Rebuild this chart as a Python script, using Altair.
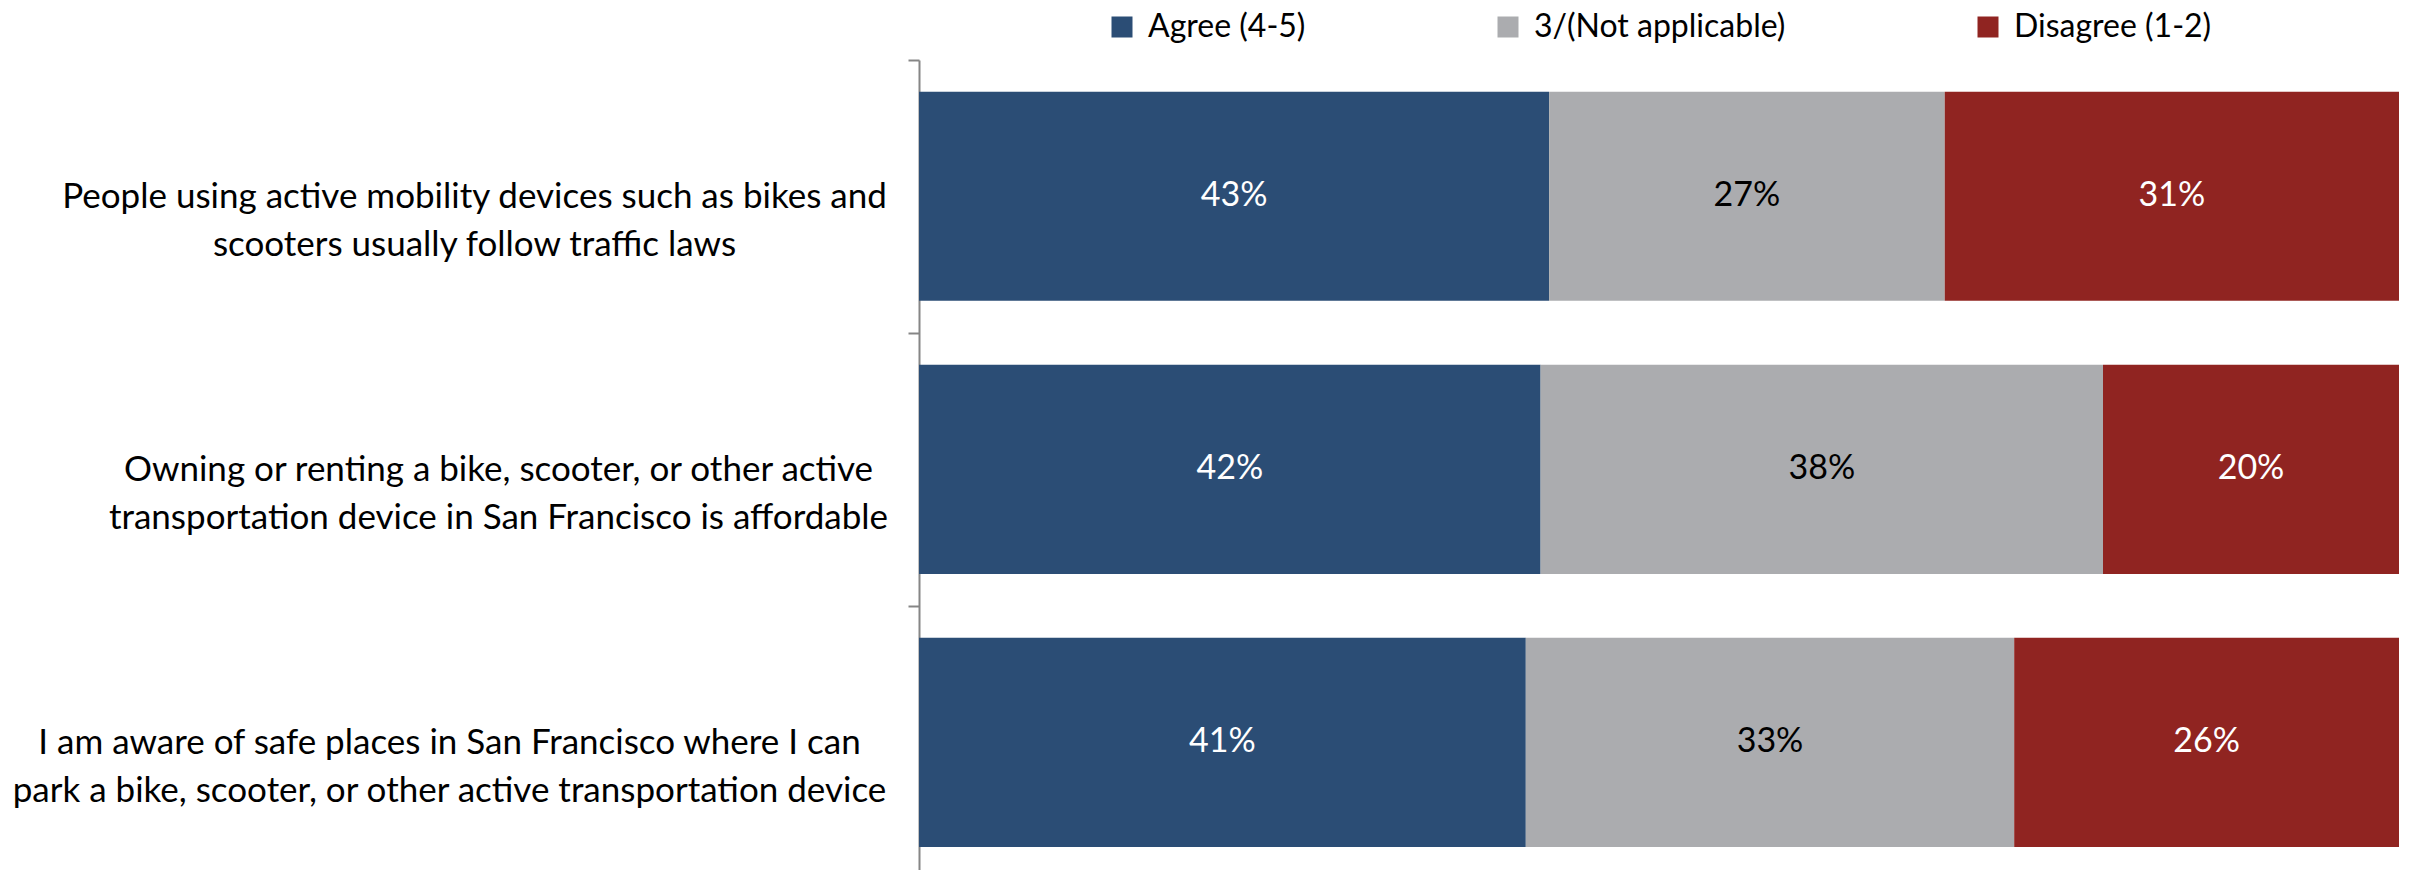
import altair as alt
import pandas as pd

questions = [
    "People using active mobility devices such as bikes and|scooters usually follow traffic laws",
    "Owning or renting a bike, scooter, or other active|transportation device in San Francisco is affordable",
    "I am aware of safe places in San Francisco where I can|park a bike, scooter, or other active transportation device",
]
series = ["Agree (4-5)", "3/(Not applicable)", "Disagree (1-2)"]
agree = [43, 42, 41]
neutral = [27, 38, 33]
disagree = [31, 20, 26]
colors = ["#2B4D75", "#ABACAF", "#902421"]
text_colors = ["#FFFFFF", "#000000", "#FFFFFF"]

rows = []
for qi, q in enumerate(questions):
    for si, (s, vals) in enumerate(zip(series, [agree, neutral, disagree])):
        rows.append({"question": q, "series": s, "order": si, "value": vals[qi],
                     "tcolor": text_colors[si]})
df = pd.DataFrame(rows)

FONT = "Lato"

label_pad = {
    "condition": [
        {"test": f"datum.value == '{questions[0]}'", "value": 434},
        {"test": f"datum.value == '{questions[1]}'", "value": 410},
    ],
    "value": 459,
}

y_enc = alt.Y(
    "question:N",
    sort=questions,
    title=None,
    scale=alt.Scale(domain=questions, paddingInner=0.234, paddingOuter=0.1, align=0.58),
    axis=alt.Axis(
        labelExpr="isValid(datum.value) ? split(datum.value, '|') : ''",
        labelAlign="center",
        labelBaseline="middle",
        labelFont=FONT,
        labelFontSize=35,
        labelLineHeight=48,
        labelColor="#000000",
        labelLimit=2000,
        labelPadding=label_pad,
        tickOffset=-136,
        labelOffset=136,
        tickSize=11,
        tickWidth=2,
        tickColor="#868686",
        domainColor="#868686",
        domainWidth=2,
        grid=False,
    ),
)

base = alt.Chart(df).transform_stack(
    stack="value",
    groupby=["question"],
    as_=["x0", "x1"],
    offset="normalize",
    sort=[alt.SortField("order", order="ascending")],
)

bars = base.mark_bar(stroke=None).encode(
    x=alt.X("x0:Q", axis=None, scale=alt.Scale(domain=[0, 1], nice=False, zero=False)),
    x2="x1:Q",
    y=y_enc,
    color=alt.Color(
        "series:N",
        scale=alt.Scale(domain=series, range=colors),
        legend=alt.Legend(
            orient="none",
            legendX=187,
            legendY=-49,
            direction="horizontal",
            title=None,
            symbolType="square",
            symbolSize=441,
            symbolStrokeWidth=0,
            labelFont=FONT,
            labelFontSize=32,
            labelColor="#000000",
            labelOffset=10,
            columnPadding=186,
            padding=0,
            labelLimit=1000,
        ),
    ),
    order=alt.Order("order:Q"),
)

labels = base.transform_calculate(
    mid="(datum.x0 + datum.x1) / 2",
    lbl="datum.value + '%'",
).mark_text(font=FONT, fontSize=34, baseline="middle", align="center").encode(
    x=alt.X("mid:Q", scale=alt.Scale(domain=[0, 1], nice=False, zero=False), axis=None),
    y=alt.Y("question:N", sort=questions),
    text="lbl:N",
    color=alt.Color("tcolor:N", scale=None, legend=None),
)

chart = alt.layer(bars, labels).properties(
    width=1480,
    height=810,
    padding={"left": 911, "top": 52, "right": 3, "bottom": 0},
    autosize=alt.AutoSizeParams(type="none"),
).configure_view(stroke=None)

chart.save("out.html", embed_options={"renderer": "svg", "actions": False})
